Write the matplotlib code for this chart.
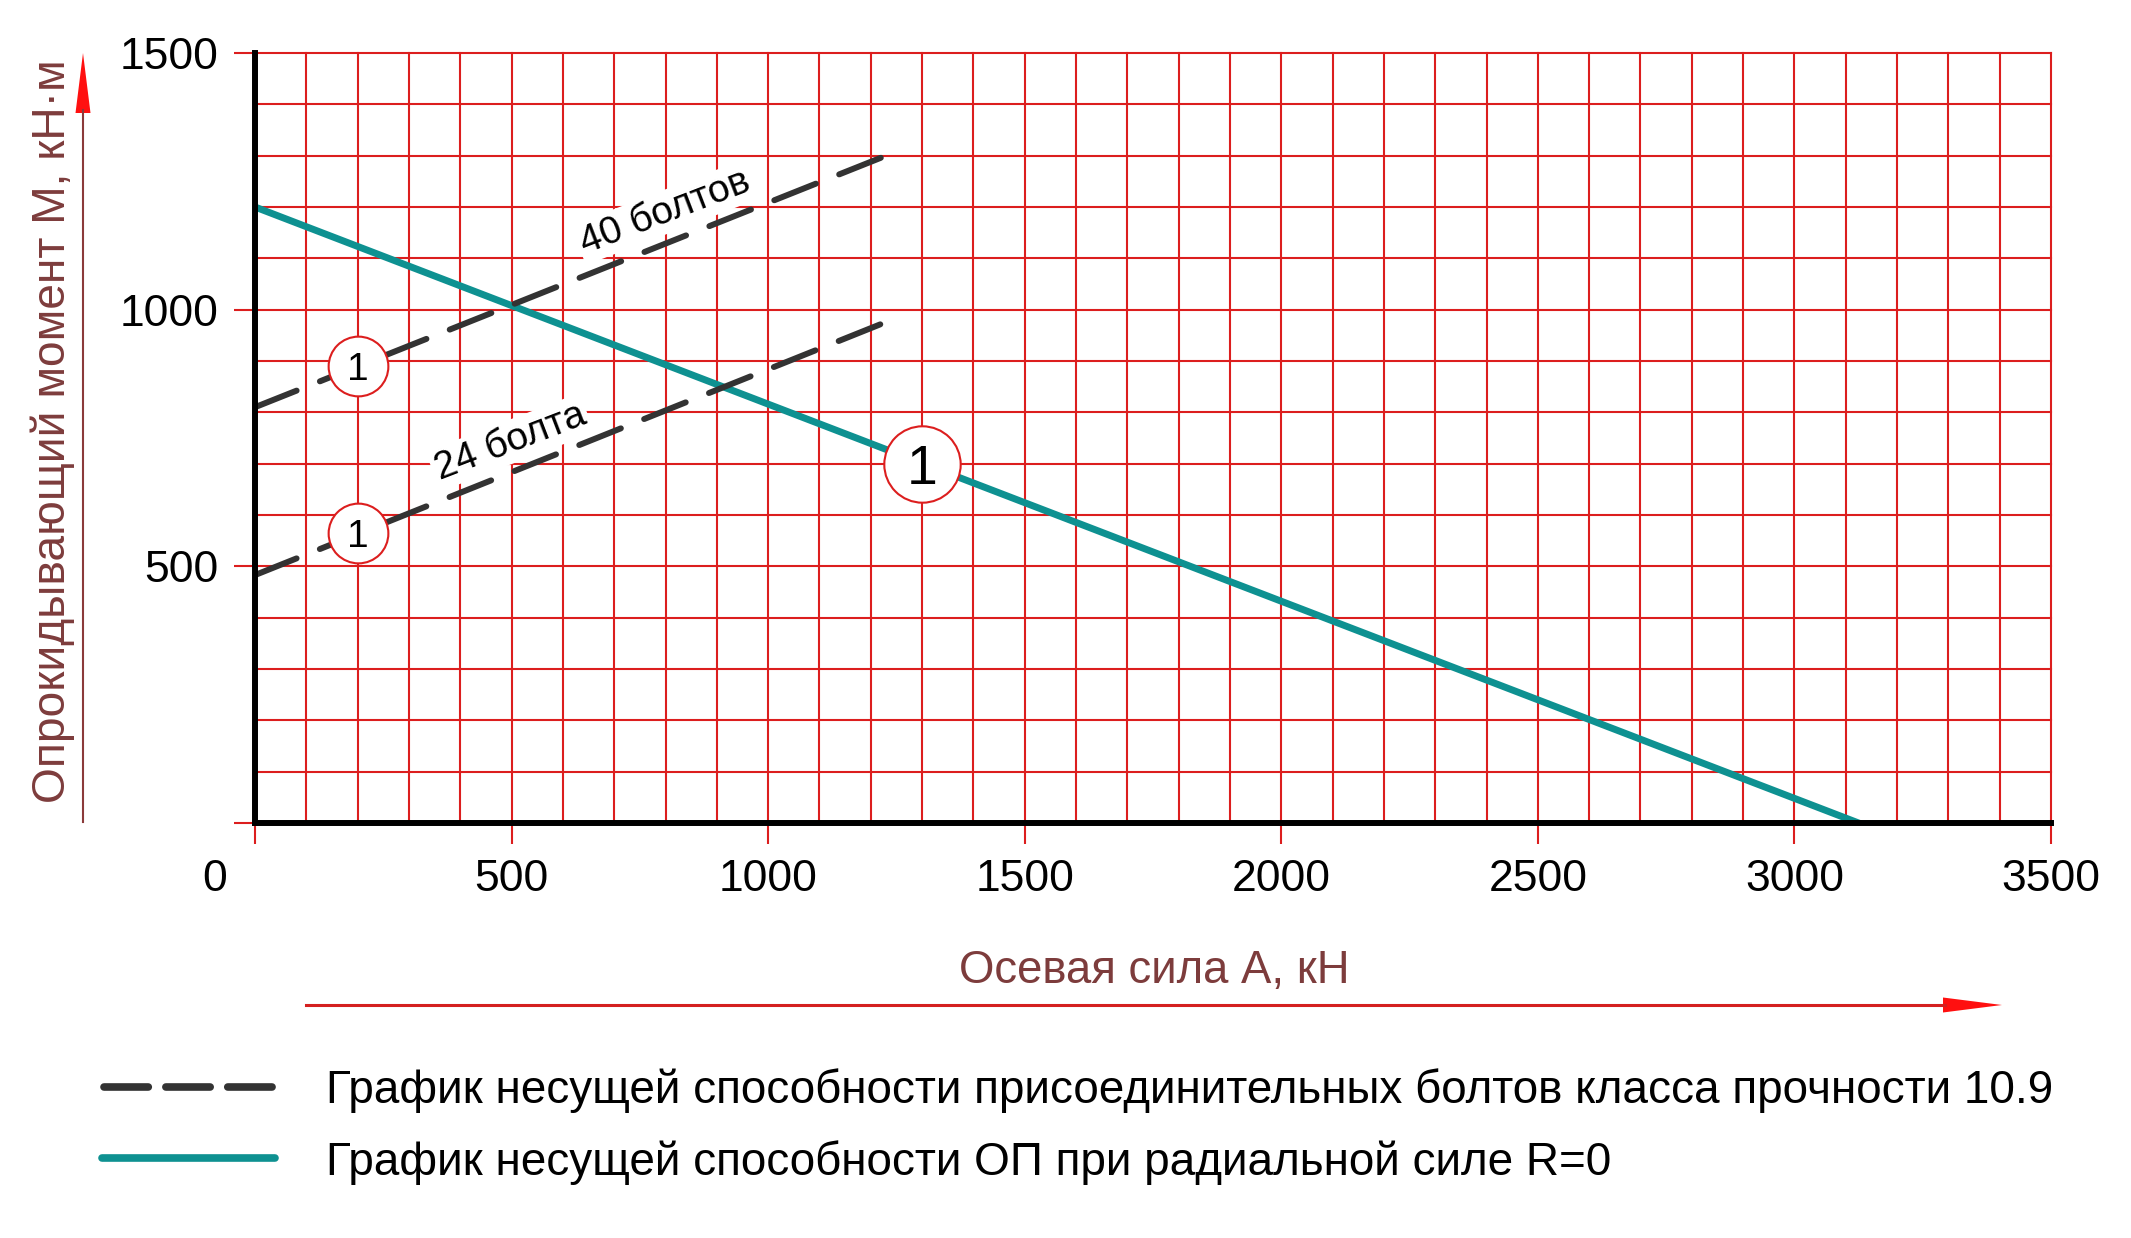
import matplotlib.pyplot as plt
from matplotlib.ticker import MultipleLocator
from matplotlib.patches import Polygon

W, H = 2131, 1238

# data (kN, kN*m)
bearing_A = [0, 3125]
bearing_M = [1200, 0]
bolts40_A = [0, 1235]
bolts40_M = [810, 1302]
bolts24_A = [0, 1235]
bolts24_M = [483, 978]

small_marks_A = [200, 200]
small_marks_M = [890, 565]
big_mark = (1300, 700)

x_ticks = [0, 500, 1000, 1500, 2000, 2500, 3000, 3500]
y_ticks = [0, 500, 1000, 1500]
y_tick_labels = ['', '500', '1000', '1500']

RED = '#dc1e1e'
BROWN = '#7d3c3c'
TEAL = '#0e9191'
DARK = '#333333'

plt.rcParams['font.family'] = ['Liberation Sans', 'DejaVu Sans']

fig = plt.figure(figsize=(W / 100, H / 100), dpi=100)
ax = fig.add_axes([255 / W, (H - 823) / H, 1796 / W, 770 / H])
ax.set_xlim(0, 3500)
ax.set_ylim(0, 1500)

ax.xaxis.set_minor_locator(MultipleLocator(100))
ax.yaxis.set_minor_locator(MultipleLocator(100))
ax.set_xticks(x_ticks, [''] + [str(v) for v in x_ticks[1:]])
ax.set_yticks(y_ticks, y_tick_labels)
ax.grid(which='both', color=RED, lw=1.5, clip_on=False)
ax.set_axisbelow(True)
ax.tick_params(which='major', direction='out', length=15, width=1.5,
               color=RED, labelsize=32, pad=11)
ax.tick_params(which='minor', length=0)
for s in ['top', 'right']:
    ax.spines[s].set_visible(False)
for s in ['left', 'bottom']:
    ax.spines[s].set_linewidth(4.3)
    ax.spines[s].set_color('black')
    ax.spines[s].set_zorder(3.5)

# "0" label is shifted left of the axis
ax.annotate('0', xy=(0, 0), xycoords='data', xytext=(-29, -26),
            textcoords='offset points', ha='center', va='top', fontsize=32)

ax.plot(bearing_A, bearing_M, color=TEAL, lw=5, zorder=3)
for A, M in [(bolts40_A, bolts40_M), (bolts24_A, bolts24_M)]:
    ax.plot(A, M, color=DARK, lw=4.3, dashes=(7.5, 4.2),
            dash_capstyle='round', zorder=3)

ax.text(799, 1190, '40 болтов', rotation=21, ha='center', va='center',
        rotation_mode='anchor', fontsize=28, zorder=2.5,
        bbox=dict(boxstyle='square,pad=0.08', fc='white', ec='none'))
ax.text(497, 742, '24 болта', rotation=21, ha='center', va='center',
        rotation_mode='anchor', fontsize=28, zorder=2.5,
        bbox=dict(boxstyle='square,pad=0.08', fc='white', ec='none'))

ax.plot(small_marks_A, small_marks_M, 'o', ms=43, mfc='white', mec=RED,
        mew=1.5, zorder=4, clip_on=False)
for A, M in zip(small_marks_A, small_marks_M):
    ax.annotate('1', xy=(A, M), xytext=(0, -0.358 * 28), textcoords='offset points',
                ha='center', va='baseline', fontsize=28, zorder=5)
ax.plot([big_mark[0]], [big_mark[1]], 'o', ms=55, mfc='white', mec=RED,
        mew=1.5, zorder=4, clip_on=False)
ax.annotate('1', xy=big_mark, xytext=(0, -0.358 * 40), textcoords='offset points',
            ha='center', va='baseline', fontsize=40, zorder=5)

# overlay in pixel units for labels, arrows and legend
ov = fig.add_axes([0, 0, 1, 1], zorder=-1)
ov.set_xlim(0, W)
ov.set_ylim(H, 0)
ov.axis('off')

ov.text(65, 431, 'Опрокидывающий момент М, кН·м', rotation=90,
        rotation_mode='anchor', ha='center', va='baseline', fontsize=33.2, color=BROWN)
ov.text(1154, 983, 'Осевая сила А, кН', ha='center', va='baseline',
        fontsize=32.8, color=BROWN)

ov.plot([83, 83], [822, 110], color='#8b3a3a', lw=1.5)
ov.add_patch(Polygon([[75.5, 113], [90.5, 113], [83, 53]], closed=True,
                     color='#ff1010', lw=0))
ov.plot([306, 1945], [1005, 1005], color='#d42020', lw=2.2)
ov.add_patch(Polygon([[1943, 997.5], [1943, 1012.5], [2002, 1005]], closed=True,
                     color='#ff1010', lw=0))

ov.plot([104, 277], [1087, 1087], color=DARK, lw=5.5, dashes=(5.8, 2.3),
        dash_capstyle='round')
ov.plot([102, 275], [1158, 1158], color=TEAL, lw=5.5, solid_capstyle='round')
ov.text(326, 1103, 'График несущей способности присоединительных болтов класса прочности 10.9',
        ha='left', va='baseline', fontsize=33)
ov.text(326, 1175, 'График несущей способности ОП при радиальной силе R=0',
        ha='left', va='baseline', fontsize=33)

fig.savefig('out.png', dpi=100, facecolor='white')
